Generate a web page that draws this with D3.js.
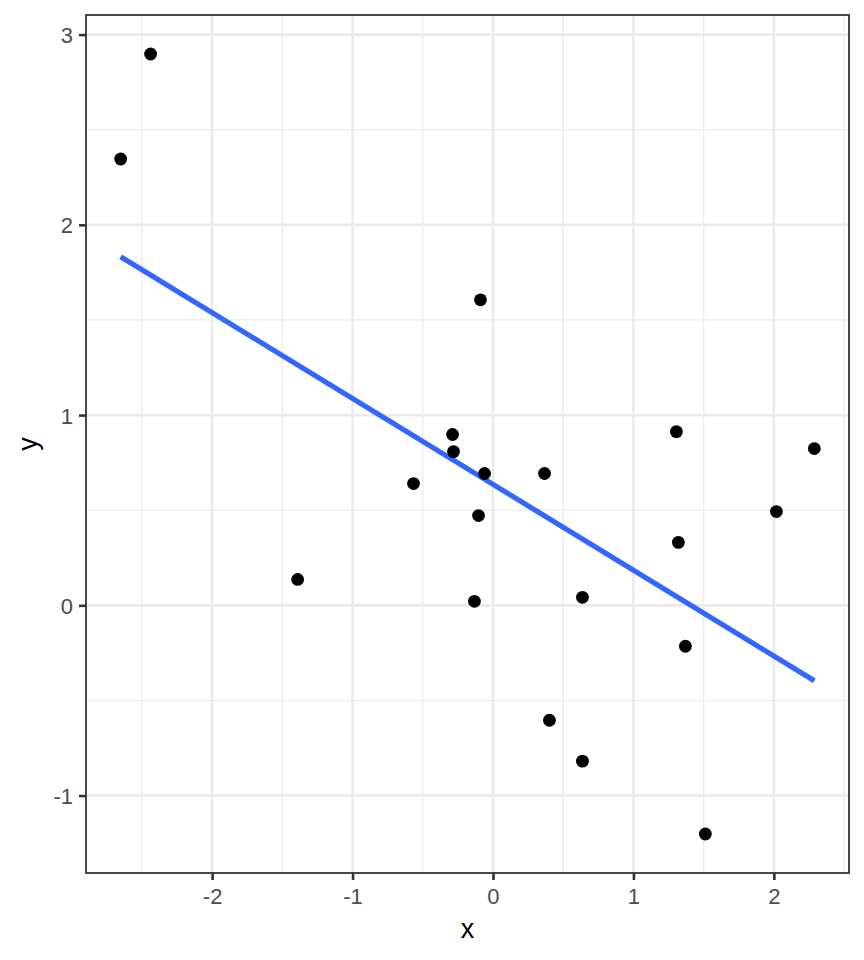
<!DOCTYPE html>
<html>
<head>
<meta charset="utf-8">
<script src="https://cdn.jsdelivr.net/npm/d3@7"></script>
<style>
  body { margin: 0; background: #fff; }
  svg { display: block; font-family: "Liberation Sans", Arial, sans-serif; }
</style>
</head>
<body>
<div id="chart"></div>
<script>
// points
const xValues = [-2.651, -2.438, -1.391, -0.566, -0.288, -0.281, -0.089, -0.060, -0.103, -0.132,
                 0.367, 0.402, 0.637, 0.637, 1.306, 1.320, 1.370, 1.512, 2.018, 2.288];
const yValues = [2.346, 2.898, 0.136, 0.640, 0.898, 0.808, 1.606, 0.693, 0.472, 0.021,
                 0.693, -0.604, 0.042, -0.819, 0.913, 0.331, -0.215, -1.202, 0.493, 0.824];
const xTicks = [-2, -1, 0, 1, 2];
const yTicks = [-1, 0, 1, 2, 3];
const xMinor = [-2.5, -1.5, -0.5, 0.5, 1.5, 2.5];
const yMinor = [-0.5, 0.5, 1.5, 2.5];

const W = 864, H = 960;
const margin = { top: 15, right: 15, bottom: 87, left: 86 };
const width = W - margin.left - margin.right;
const height = H - margin.top - margin.bottom;

const points = xValues.map((x, i) => ({ x, y: yValues[i] }));

// ggplot style 5% expansion
const pad = (ext) => { const r = ext[1] - ext[0]; return [ext[0] - r * 0.05, ext[1] + r * 0.05]; };
const x = d3.scaleLinear().domain(pad(d3.extent(xValues))).range([0, width]);
const y = d3.scaleLinear().domain(pad(d3.extent(yValues))).range([height, 0]);

// least squares fit, like geom_smooth(method = "lm")
const mx = d3.mean(xValues), my = d3.mean(yValues);
const slope = d3.sum(points, d => (d.x - mx) * (d.y - my)) / d3.sum(points, d => (d.x - mx) ** 2);
const icept = my - slope * mx;
const fitLine = d3.extent(xValues).map(v => ({ x: v, y: icept + slope * v }));

const svg = d3.select('#chart')
  .append('svg')
    .attr('width', W)
    .attr('height', H);

const g = svg.append('g')
    .attr('transform', `translate(${margin.left}, ${margin.top})`);

// grid
g.append('g').selectAll('line')
    .data(xMinor)
  .enter().append('line')
    .attr('x1', d => x(d)).attr('x2', d => x(d))
    .attr('y1', 0).attr('y2', height)
    .style('stroke', '#ebebeb').style('stroke-width', 1.3);

g.append('g').selectAll('line')
    .data(yMinor)
  .enter().append('line')
    .attr('y1', d => y(d)).attr('y2', d => y(d))
    .attr('x1', 0).attr('x2', width)
    .style('stroke', '#ebebeb').style('stroke-width', 1.3);

g.append('g').selectAll('line')
    .data(xTicks)
  .enter().append('line')
    .attr('x1', d => x(d)).attr('x2', d => x(d))
    .attr('y1', 0).attr('y2', height)
    .style('stroke', '#ebebeb').style('stroke-width', 2.6);

g.append('g').selectAll('line')
    .data(yTicks)
  .enter().append('line')
    .attr('y1', d => y(d)).attr('y2', d => y(d))
    .attr('x1', 0).attr('x2', width)
    .style('stroke', '#ebebeb').style('stroke-width', 2.6);

// fit line
const line = d3.line().x(d => x(d.x)).y(d => y(d.y));
g.append('path')
    .datum(fitLine)
    .attr('d', line)
    .style('fill', 'none')
    .style('stroke', '#3366ff')
    .style('stroke-width', 5.2);

// points
g.selectAll('.dot')
    .data(points)
  .enter().append('circle')
    .attr('class', 'dot')
    .attr('cx', d => x(d.x))
    .attr('cy', d => y(d.y))
    .attr('r', 6.4)
    .style('fill', '#000');

// panel border
g.append('rect')
    .attr('width', width)
    .attr('height', height)
    .style('fill', 'none')
    .style('stroke', '#333333')
    .style('stroke-width', 1.8);

// axes
const xAxis = d3.axisBottom(x).tickValues(xTicks).tickSize(7).tickPadding(8).tickFormat(d3.format('d'));
const yAxis = d3.axisLeft(y).tickValues(yTicks).tickSize(7).tickPadding(6).tickFormat(d3.format('d'));

const gx = g.append('g')
    .attr('transform', `translate(0, ${height})`)
    .call(xAxis);
const gy = g.append('g').call(yAxis);

[gx, gy].forEach(a => {
  a.attr('font-size', null).attr('font-family', null);
  a.select('.domain').remove();
  a.selectAll('.tick line').style('stroke', '#333333').style('stroke-width', 2.6);
  a.selectAll('.tick text')
      .style('fill', '#4d4d4d')
      .style('font-size', '22px')
      .style('font-family', '"Liberation Sans", Arial, sans-serif');
});
gx.selectAll('.tick text').attr('dy', '0.71em');
gy.selectAll('.tick text').attr('dy', '0.36em');
// d3 uses a unicode minus; ggplot uses a hyphen
[gx, gy].forEach(a => a.selectAll('.tick text').text(d => String(d)));

// titles
svg.append('text')
    .attr('x', margin.left + width / 2)
    .attr('y', 938)
    .attr('text-anchor', 'middle')
    .style('font-size', '27px')
    .style('fill', '#000')
    .text('x');

svg.append('text')
    .attr('transform', `translate(37, ${margin.top + height / 2}) rotate(-90)`)
    .attr('text-anchor', 'middle')
    .style('font-size', '27px')
    .style('fill', '#000')
    .text('y');
</script>
</body>
</html>
